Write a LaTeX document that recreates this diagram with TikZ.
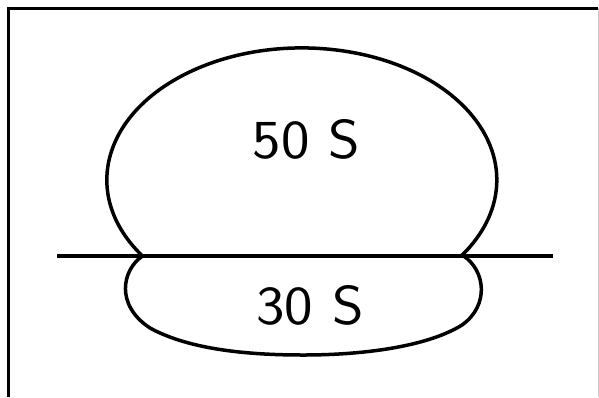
\documentclass[tikz,border=0pt]{standalone}
\usepackage{tikz}

\begin{document}
\begin{tikzpicture}[
      x=1pt, y=-1pt,
      frame/.style={draw=black, line width=3pt},
      lobe/.style={draw=black, line width=3.5pt, line join=round},
      axis/.style={draw=black, line width=3.5pt},
      label/.style={font=\sffamily\fontsize{55}{55}\selectfont, xscale=1.1,
                    inner sep=0pt, anchor=base}
  ]
      \useasboundingbox (0,0) rectangle (599,397);

      % Frame
      \draw[frame] (8,397) -- (8,8) -- (598,8);
      \draw[draw=gray!40, line width=1pt] (598,8) -- (598,397);

      % Junction points on the axis
      \coordinate (jl) at (142.5,256);
      \coordinate (jr) at (463.5,256);

      % Upper lobe (part of an ellipse)
      \draw[lobe] (jl) arc[start angle=144.8, end angle=395.2,
                           x radius=195, y radius=132];

      % Lower lobe
      \draw[lobe] (jl) .. controls (122,270) and (115,305) .. (150,328)
          .. controls (190,350) and (250,355) .. (303,355)
          .. controls (370,355) and (430,345) .. (462,325)
          .. controls (490,305) and (485,270) .. (jr);

      % Axis
      \coordinate (al) at (57,256);
      \coordinate (ar) at (553,256);
      \draw[axis] (al) -- (ar);

      % Labels
      \node[label] (upper) at (306.5,158) {50 S};
      \node[label] (lower) at (310,324) {30 S};
  \end{tikzpicture}
\end{document}
